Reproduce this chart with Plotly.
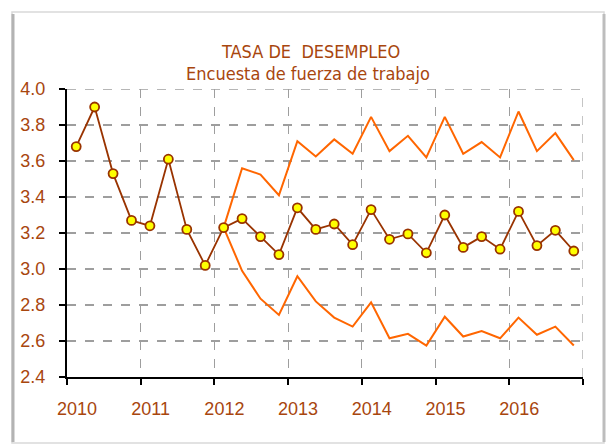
import plotly.graph_objects as go

# ---- data ----
years = [2010, 2011, 2012, 2013, 2014, 2015, 2016]
year_labels = ["2010", "2011", "2012", "2013", "2014", "2015", "2016"]
quarters_per_year = 4

tasa = [3.68, 3.90, 3.53, 3.27,
        3.24, 3.61, 3.22, 3.02,
        3.23, 3.28, 3.18, 3.08,
        3.34, 3.22, 3.25, 3.135,
        3.33, 3.165, 3.195, 3.09,
        3.30, 3.12, 3.18, 3.11,
        3.32, 3.13, 3.215, 3.10]

band_start = 8  # first quarter of 2012
superior = [3.23, 3.56, 3.525, 3.41,
            3.71, 3.625, 3.72, 3.64,
            3.845, 3.655, 3.74, 3.62,
            3.845, 3.64, 3.705, 3.62,
            3.875, 3.655, 3.755, 3.605]
inferior = [3.23, 2.99, 2.835, 2.745,
            2.96, 2.82, 2.73, 2.68,
            2.815, 2.615, 2.64, 2.575,
            2.735, 2.625, 2.655, 2.615,
            2.73, 2.635, 2.68, 2.575]

y_ticks = [2.4, 2.6, 2.8, 3.0, 3.2, 3.4, 3.6, 3.8, 4.0]

# quarter positions on a continuous year axis (centre of each quarter)
x_all = [years[0] + (i + 0.5) / quarters_per_year for i in range(len(tasa))]
x_band = x_all[band_start:band_start + len(superior)]

BROWN = "#993300"
ORANGE = "#FF6600"
TEXT = "#A8460E"
GRID = "#9E9E9E"
TICK_FONT = dict(family="Liberation Sans, Arial, sans-serif", size=18, color=TEXT)
TITLE_FONT = dict(family="DejaVu Sans Condensed, Liberation Sans Narrow, Arial Narrow, sans-serif",
                  size=18, color=TEXT)

fig = go.Figure()
fig.add_trace(go.Scatter(x=x_band, y=superior, mode="lines",
                         line=dict(color=ORANGE, width=2), hoverinfo="skip"))
fig.add_trace(go.Scatter(x=x_band, y=inferior, mode="lines",
                         line=dict(color=ORANGE, width=2), hoverinfo="skip"))
fig.add_trace(go.Scatter(x=x_all, y=tasa, mode="lines+markers",
                         line=dict(color=BROWN, width=1.8),
                         marker=dict(color="#FFFF00", size=9,
                                     line=dict(color=BROWN, width=1.8))))

W, H = 611, 446
L, R, T, B = 67, 28, 89, 69
pw, ph = W - L - R, H - T - B

def px_x(px):
    return (px - L) / pw

def px_y(py):
    return (H - B - py) / ph

fig.update_layout(
    width=W, height=H,
    margin=dict(l=L, r=R, t=T, b=B, autoexpand=False),
    paper_bgcolor="white", plot_bgcolor="white",
    showlegend=False,
    font=TICK_FONT,
)

fig.update_xaxes(
    range=[years[0], years[-1] + 1],
    automargin=False,
    tickmode="array",
    tickvals=[y + 0.135 for y in years],
    ticktext=year_labels,
    tickfont=TICK_FONT,
    ticks="", showgrid=False,
    ticklabelstandoff=14,
    showline=True, linecolor="black", linewidth=2,
    zeroline=False,
    minor=dict(tickmode="array", tickvals=years + [years[-1] + 1],
               ticks="outside", ticklen=6, tickwidth=1.5, tickcolor="black",
               showgrid=True, gridcolor=GRID, gridwidth=1.2, griddash="dash"),
)
fig.update_yaxes(
    range=[2.4, 4.0],
    automargin=False,
    tickmode="array", tickvals=y_ticks,
    ticktext=[f"{v:.1f}" for v in y_ticks],
    tickfont=TICK_FONT,
    ticks="outside", ticklen=6, tickwidth=1.5, tickcolor="black",
    ticklabelstandoff=10,
    showgrid=True, gridcolor=GRID, gridwidth=1.6, griddash="dash",
    showline=True, linecolor="black", linewidth=2,
    zeroline=False,
)

# vertical grid line at right edge (2017)
fig.add_shape(type="line", xref="x", yref="paper", x0=2017, x1=2017, y0=0, y1=1,
              line=dict(color=GRID, width=1.2, dash="dash"), layer="below")
# top grid line
fig.add_shape(type="line", xref="paper", yref="y", x0=0, x1=1, y0=4.0, y1=4.0,
              line=dict(color=GRID, width=1.6, dash="dash"), layer="below")

# chart frame
fig.add_shape(type="rect", xref="paper", yref="paper",
              x0=px_x(12), x1=px_x(604), y0=px_y(443), y1=px_y(12),
              line=dict(color="#D9D9D9", width=1.5), layer="below")
fig.add_shape(type="line", xref="paper", yref="paper",
              x0=px_x(13), x1=px_x(13), y0=px_y(442), y1=px_y(14),
              line=dict(color="#B3B3B3", width=3), layer="below")
fig.add_shape(type="line", xref="paper", yref="paper",
              x0=px_x(604), x1=px_x(604), y0=px_y(442), y1=px_y(14),
              line=dict(color="#BDBDBD", width=3), layer="below")

fig.add_annotation(text="TASA DE\u00a0 DESEMPLEO", xref="paper", yref="paper",
                   x=px_x(310), y=px_y(39), showarrow=False, font=TITLE_FONT)
fig.add_annotation(text="Encuesta de fuerza de trabajo", xref="paper", yref="paper",
                   x=px_x(308), y=px_y(61), showarrow=False, font=TITLE_FONT)

fig.write_html("out.html", config={"displayModeBar": False},
               post_script="document.body.style.margin='0';")
